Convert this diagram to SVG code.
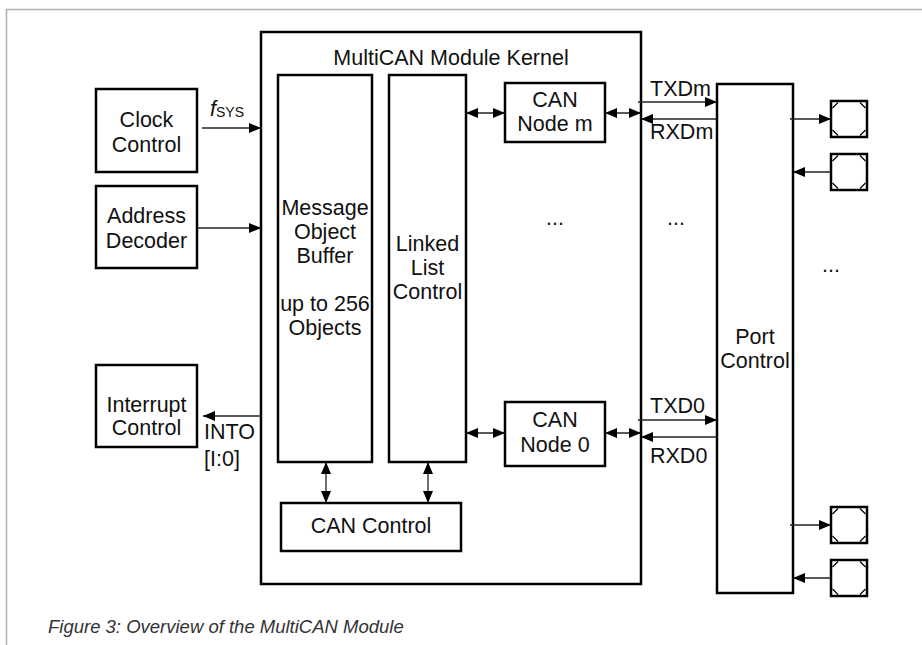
<svg xmlns="http://www.w3.org/2000/svg" width="922" height="645" viewBox="0 0 922 645">
  <style>
    .box { fill: #fff; stroke: #000; stroke-width: 2.5; }
    .frame { fill: none; stroke: #b0b0b0; stroke-width: 1.5; }
    .lbl { font-family: "Liberation Sans", Arial, Helvetica, sans-serif; font-size: 21.5px; fill: #111; }
    .mid { text-anchor: middle; }
    .cap { font-family: "Liberation Sans", Arial, Helvetica, sans-serif; font-size: 18.5px; font-style: italic; fill: #333; }
    .wire { fill: none; stroke: #222; stroke-width: 1.3; }
    .one { marker-end: url(#head); }
    .two { marker-start: url(#head); marker-end: url(#head); }
  </style>
  <defs>
    <marker id="head" viewBox="0 0 12 10" refX="12" refY="5" markerWidth="12" markerHeight="10" markerUnits="userSpaceOnUse" orient="auto-start-reverse">
      <path d="M0,0 L12,5 L0,10 Z" fill="#000"/>
    </marker>
    <g id="pin">
      <rect x="0" y="0" width="36" height="36" fill="#fff" stroke="#000" stroke-width="2.5"/>
      <path d="M1.5,7 L7,1.5 M29,1.5 L34.5,7 M34.5,29 L29,34.5 M7,34.5 L1.5,29" fill="none" stroke="#000" stroke-width="1.2"/>
    </g>
  </defs>

  <rect width="922" height="645" fill="#fff"/>
  <path class="frame" d="M6.5,645 L6.5,9.5 L922,9.5"/>

  <!-- left side blocks -->
  <g id="clock-control">
    <rect class="box" x="96" y="89" width="101" height="83"/>
    <text class="lbl mid" x="146.5" y="127">Clock</text>
    <text class="lbl mid" x="146.5" y="152">Control</text>
  </g>
  <g id="address-decoder">
    <rect class="box" x="96" y="186" width="101" height="82"/>
    <text class="lbl mid" x="146.5" y="223">Address</text>
    <text class="lbl mid" x="146.5" y="248">Decoder</text>
  </g>
  <g id="interrupt-control">
    <rect class="box" x="96" y="365" width="101" height="82"/>
    <text class="lbl mid" x="146.5" y="412">Interrupt</text>
    <text class="lbl mid" x="146.5" y="435">Control</text>
  </g>

  <!-- kernel and its parts -->
  <g id="kernel">
    <rect class="box" x="261" y="32" width="380" height="552"/>
    <text class="lbl mid" x="451" y="65">MultiCAN Module Kernel</text>
  </g>
  <g id="message-object-buffer">
    <rect class="box" x="278" y="75" width="94" height="387"/>
    <text class="lbl mid" x="325" y="215">Message</text>
    <text class="lbl mid" x="325" y="239">Object</text>
    <text class="lbl mid" x="325" y="263">Buffer</text>
    <text class="lbl mid" x="325" y="311">up to 256</text>
    <text class="lbl mid" x="325" y="335">Objects</text>
  </g>
  <g id="linked-list-control">
    <rect class="box" x="389" y="75" width="77" height="387"/>
    <text class="lbl mid" x="427.5" y="251">Linked</text>
    <text class="lbl mid" x="427.5" y="275">List</text>
    <text class="lbl mid" x="427.5" y="299">Control</text>
  </g>
  <g id="can-node-m">
    <rect class="box" x="505" y="83" width="100" height="59"/>
    <text class="lbl mid" x="555" y="107">CAN</text>
    <text class="lbl mid" x="555" y="131">Node m</text>
  </g>
  <g id="can-node-0">
    <rect class="box" x="505" y="402" width="100" height="64"/>
    <text class="lbl mid" x="555" y="427">CAN</text>
    <text class="lbl mid" x="555" y="452">Node 0</text>
  </g>
  <g id="can-control">
    <rect class="box" x="281" y="503" width="180" height="48"/>
    <text class="lbl mid" x="371" y="533">CAN Control</text>
  </g>

  <!-- port side -->
  <g id="port-control">
    <rect class="box" x="717" y="84" width="76" height="509"/>
    <text class="lbl mid" x="755" y="344">Port</text>
    <text class="lbl mid" x="755" y="368">Control</text>
  </g>
  <g id="pin-1"><use href="#pin" x="831" y="101"/></g>
  <g id="pin-2"><use href="#pin" x="831" y="154"/></g>
  <g id="pin-3"><use href="#pin" x="831" y="507"/></g>
  <g id="pin-4"><use href="#pin" x="831" y="560"/></g>

  <!-- ellipses for the omitted nodes and pins -->
  <g id="ellipses">
    <text class="lbl mid" x="555" y="225">...</text>
    <text class="lbl mid" x="676" y="225">...</text>
    <text class="lbl mid" x="831" y="272">...</text>
  </g>

  <!-- connectors -->
  <g id="connectors">
    <line class="wire one" x1="202" y1="128" x2="261" y2="128"/>
    <line class="wire one" x1="197" y1="228" x2="261" y2="228"/>
    <line class="wire one" x1="261" y1="416" x2="203" y2="416"/>

    <line class="wire two" x1="326" y1="462" x2="326" y2="503"/>
    <line class="wire two" x1="428" y1="462" x2="428" y2="503"/>

    <line class="wire two" x1="466" y1="113" x2="505" y2="113"/>
    <line class="wire two" x1="466" y1="433" x2="505" y2="433"/>
    <line class="wire two" x1="605" y1="113" x2="641" y2="113"/>
    <line class="wire two" x1="605" y1="433" x2="641" y2="433"/>

    <line class="wire one" x1="638" y1="102" x2="717" y2="102"/>
    <line class="wire one" x1="717" y1="119" x2="641" y2="119"/>
    <line class="wire one" x1="638" y1="420" x2="717" y2="420"/>
    <line class="wire one" x1="717" y1="437" x2="641" y2="437"/>

    <line class="wire one" x1="790" y1="119" x2="831" y2="119"/>
    <line class="wire one" x1="831" y1="172" x2="793" y2="172"/>
    <line class="wire one" x1="790" y1="525" x2="831" y2="525"/>
    <line class="wire one" x1="831" y1="578" x2="793" y2="578"/>
  </g>

  <!-- signal labels -->
  <g id="signal-labels">
    <text class="lbl" x="210" y="116"><tspan font-style="italic">f</tspan><tspan font-size="14" dy="1">SYS</tspan></text>
    <text class="lbl" x="204" y="439">INTO</text>
    <text class="lbl" x="204" y="466" font-size="18">[I:0]</text>
    <text class="lbl" x="650" y="96">TXDm</text>
    <text class="lbl" x="650" y="139">RXDm</text>
    <text class="lbl" x="650" y="413">TXD0</text>
    <text class="lbl" x="650" y="463">RXD0</text>
  </g>

  <text class="cap" x="48" y="633">Figure 3: Overview of the MultiCAN Module</text>
</svg>
